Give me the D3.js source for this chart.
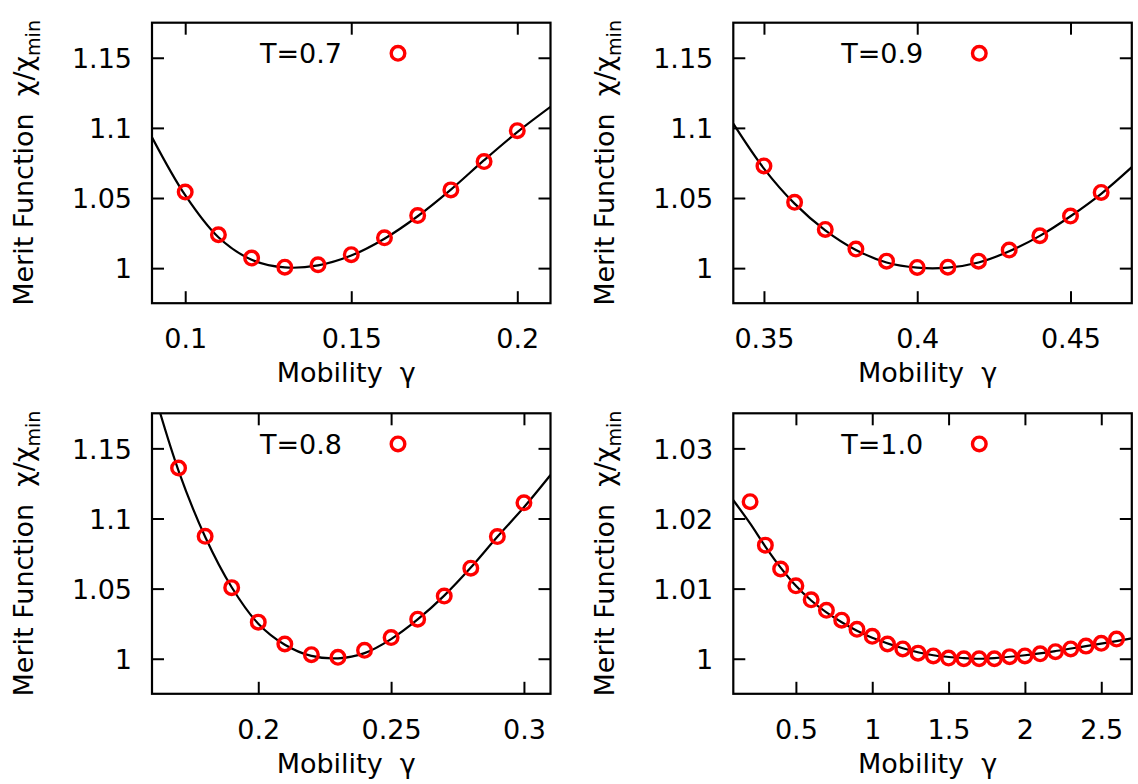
<!DOCTYPE html>
<html>
<head>
<meta charset="utf-8">
<script src="https://cdn.jsdelivr.net/npm/d3@7"></script>
<style>
  body { margin: 0; background: #fff; }
  svg { display: block; }
  text { white-space: pre; }
</style>
</head>
<body>
<div id="chart"></div>
<script>
// --- data ---
var labels = ['T=0.7', 'T=0.9', 'T=0.8', 'T=1.0']

// T=0.7
var gamma07 = [0.10, 0.11, 0.12, 0.13, 0.14, 0.15, 0.16, 0.17, 0.18, 0.19, 0.20]
var merit07 = [1.0543, 1.0238, 1.0072, 1.0007, 1.0024, 1.0096, 1.0216, 1.0375, 1.0558, 1.076, 1.098]
var fitX07 = [0.09, 0.10, 0.11, 0.12, 0.13, 0.14, 0.15, 0.16, 0.17, 0.18, 0.19, 0.20, 0.21]
var fitY07 = [1.0933, 1.052, 1.022, 1.006, 1.0005, 1.002, 1.009, 1.021, 1.037, 1.056, 1.077, 1.097, 1.115]

// T=0.9
var gamma09 = [0.35, 0.36, 0.37, 0.38, 0.39, 0.40, 0.41, 0.42, 0.43, 0.44, 0.45, 0.46]
var merit09 = [1.0729, 1.0469, 1.0276, 1.0136, 1.005, 1.0005, 1.0007, 1.005, 1.0129, 1.0231, 1.0371, 1.054]
var fitX09 = [0.34, 0.35, 0.36, 0.37, 0.38, 0.39, 0.40, 0.41, 0.42, 0.43, 0.44, 0.45, 0.46, 0.47]
var fitY09 = [1.103, 1.071, 1.046, 1.027, 1.013, 1.004, 1.0003, 1.0003, 1.004, 1.012, 1.023, 1.037, 1.053, 1.072]

// T=0.8
var gamma08 = [0.17, 0.18, 0.19, 0.20, 0.21, 0.22, 0.23, 0.24, 0.25, 0.26, 0.27, 0.28, 0.29, 0.30]
var merit08 = [1.136, 1.0873, 1.0507, 1.0261, 1.0105, 1.0029, 1.001, 1.006, 1.0151, 1.0282, 1.0447, 1.0646, 1.0871, 1.1112]
var fitX08 = [0.16, 0.17, 0.18, 0.19, 0.20, 0.21, 0.22, 0.23, 0.24, 0.25, 0.26, 0.27, 0.28, 0.29, 0.30, 0.31]
var fitY08 = [1.195, 1.134, 1.087, 1.051, 1.025, 1.010, 1.002, 1.0003, 1.004, 1.014, 1.028, 1.045, 1.065, 1.087, 1.108, 1.131]

// T=1.0
var gamma10 = [0.2, 0.3, 0.4, 0.5, 0.6, 0.7, 0.8, 0.9, 1.0, 1.1, 1.2, 1.3, 1.4, 1.5, 1.6, 1.7, 1.8, 1.9, 2.0, 2.1, 2.2, 2.3, 2.4, 2.5, 2.6]
var merit10 = [1.0224, 1.0162, 1.0128, 1.0104, 1.0084, 1.0069, 1.0055, 1.0042, 1.0032, 1.0021, 1.0014, 1.0008, 1.0004, 1.0001, 1.0, 1.0, 1.0, 1.0003, 1.0004, 1.0007, 1.001, 1.0014, 1.0018, 1.0022, 1.0028]
var fitX10 = [0.09, 0.2, 0.3, 0.4, 0.5, 0.6, 0.7, 0.8, 0.9, 1.0, 1.2, 1.4, 1.6, 1.7, 1.8, 2.0, 2.2, 2.4, 2.6, 2.7]
var fitY10 = [1.0226, 1.0193, 1.016, 1.013, 1.0104, 1.0083, 1.0066, 1.0052, 1.004, 1.003, 1.0015, 1.0005, 1.0001, 1.0, 1.0001, 1.0005, 1.0011, 1.0018, 1.0025, 1.0029]

// axis ranges and ticks
var xDomains = [[0.09, 0.21], [0.34, 0.47], [0.16, 0.31], [0.09, 2.7]]
var yDomains = [[0.975, 1.175], [0.975, 1.175], [0.975, 1.175], [0.995, 1.035]]
var xTicks = [[0.1, 0.15, 0.2], [0.35, 0.4, 0.45], [0.2, 0.25, 0.3], [0.5, 1, 1.5, 2, 2.5]]
var xTickLabels = [['0.1', '0.15', '0.2'], ['0.35', '0.4', '0.45'], ['0.2', '0.25', '0.3'], ['0.5', '1', '1.5', '2', '2.5']]
var yTicks = [[1, 1.05, 1.1, 1.15], [1, 1.05, 1.1, 1.15], [1, 1.05, 1.1, 1.15], [1, 1.01, 1.02, 1.03]]
var yTickLabels = [['1', '1.05', '1.1', '1.15'], ['1', '1.05', '1.1', '1.15'], ['1', '1.05', '1.1', '1.15'], ['1', '1.01', '1.02', '1.03']]

var points = [[gamma07, merit07], [gamma09, merit09], [gamma08, merit08], [gamma10, merit10]]
var fits = [[fitX07, fitY07], [fitX09, fitY09], [fitX08, fitY08], [fitX10, fitY10]]

// --- layout ---
var W = 1138
var H = 784
var FONT = 'DejaVu Sans'
var FS = 27
var panelW = 398.5
var panelH = 280.5
var origins = [[152, 22.7], [733.3, 22.7], [152, 413.3], [733.3, 413.3]]

var svg = d3
  .select('#chart')
  .append('svg')
  .attr('width', W)
  .attr('height', H)
  .style('font-family', FONT)

origins.forEach(function (o, i) {
  var g = svg.append('g').attr('transform', 'translate(' + o[0] + ',' + o[1] + ')')

  var x = d3.scaleLinear().domain(xDomains[i]).range([0, panelW])
  var y = d3.scaleLinear().domain(yDomains[i]).range([panelH, 0])

  // clip for the fitted curve
  g.append('clipPath')
    .attr('id', 'clip' + i)
    .append('rect')
    .attr('width', panelW)
    .attr('height', panelH)

  // axes: inward ticks on all four sides
  var bottom = g.append('g')
    .attr('transform', 'translate(0,' + panelH + ')')
    .call(d3.axisBottom(x).tickValues(xTicks[i]).tickSize(-12).tickPadding(26)
      .tickFormat(function (d, k) { return xTickLabels[i][k] }))
  var top = g.append('g')
    .call(d3.axisTop(x).tickValues(xTicks[i]).tickSize(-12).tickFormat(''))
  var left = g.append('g')
    .call(d3.axisLeft(y).tickValues(yTicks[i]).tickSize(-12).tickPadding(20)
      .tickFormat(function (d, k) { return yTickLabels[i][k] }))
  var right = g.append('g')
    .attr('transform', 'translate(' + panelW + ',0)')
    .call(d3.axisRight(y).tickValues(yTicks[i]).tickSize(-12).tickFormat(''))

  ;[bottom, top, left, right].forEach(function (a) {
    a.select('.domain').remove()
    a.selectAll('line').attr('stroke', '#000').attr('stroke-width', 2)
    a.selectAll('text')
      .attr('fill', '#000')
      .style('font-size', FS + 'px')
      .style('font-family', FONT)
  })
  left.selectAll('text').attr('dy', '0.36em')

  // frame
  g.append('rect')
    .attr('width', panelW)
    .attr('height', panelH)
    .attr('fill', 'none')
    .attr('stroke', '#000')
    .attr('stroke-width', 2.2)

  // fitted curve
  var fitData = fits[i][0].map(function (v, k) { return [v, fits[i][1][k]] })
  var line = d3.line()
    .x(function (d) { return x(d[0]) })
    .y(function (d) { return y(d[1]) })
    .curve(d3.curveCatmullRom.alpha(0.5))
  g.append('path')
    .datum(fitData)
    .attr('clip-path', 'url(#clip' + i + ')')
    .attr('d', line)
    .attr('fill', 'none')
    .attr('stroke', '#000')
    .attr('stroke-width', 2.2)

  // data points
  var ptData = points[i][0].map(function (v, k) { return [v, points[i][1][k]] })
  g.selectAll('circle.pt')
    .data(ptData)
    .enter()
    .append('circle')
    .attr('class', 'pt')
    .attr('cx', function (d) { return x(d[0]) })
    .attr('cy', function (d) { return y(d[1]) })
    .attr('r', 6.8)
    .attr('fill', 'none')
    .attr('stroke', '#ff0000')
    .attr('stroke-width', 3.4)

  // key
  g.append('text')
    .attr('x', 190)
    .attr('y', 40.6)
    .attr('text-anchor', 'end')
    .style('font-size', FS + 'px')
    .text(labels[i])
  g.append('circle')
    .attr('cx', 246)
    .attr('cy', 30.6)
    .attr('r', 6.8)
    .attr('fill', 'none')
    .attr('stroke', '#ff0000')
    .attr('stroke-width', 3.4)

  // x label
  g.append('text')
    .attr('x', panelW / 2 - 5)
    .attr('y', panelH + 79)
    .attr('text-anchor', 'middle')
    .style('font-size', FS + 'px')
    .text('Mobility  γ')

  // y label
  var yl = g.append('text')
    .attr('transform', 'translate(' + (-119) + ',' + (panelH / 2) + ') rotate(-90)')
    .attr('text-anchor', 'middle')
    .style('font-size', FS + 'px')
  yl.append('tspan').text('Merit Function  χ/χ')
  yl.append('tspan')
    .attr('dy', 7)
    .style('font-size', '19px')
    .text('min')
})
</script>
</body>
</html>
